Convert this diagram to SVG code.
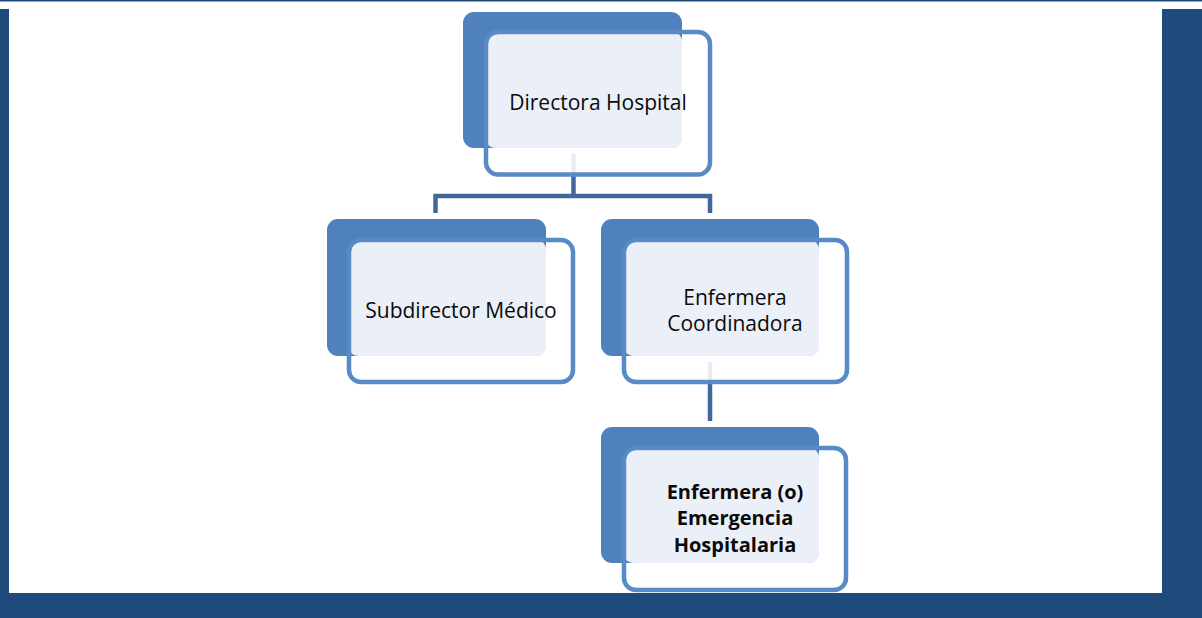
<svg xmlns="http://www.w3.org/2000/svg" width="1202" height="618" viewBox="0 0 1202 618">
  <style>
    .back { fill: #4F81BD; }
    .light { fill: #EBF0F8; }
    .frame { fill: none; stroke: #5A8AC6; stroke-width: 4.5; }
    .conn { stroke: #41689A; stroke-width: 4.5; fill: none; }
    .connlight { stroke: #E8EDF4; stroke-width: 4.5; fill: none; }
    .lbl { font-family: "Open Sans", "Noto Sans", "Liberation Sans", sans-serif; font-size: 21px; fill: #0a0a0a; text-anchor: middle; }
    .bold { font-weight: bold; font-size: 20px; }
    .bar { fill: #1F4A7C; }
  </style>
  <rect x="0" y="0" width="1202" height="618" fill="#ffffff"/>
  <g id="border">
    <rect class="bar" x="0" y="0" width="1202" height="1.5"/>
    <rect class="bar" x="0" y="9" width="9" height="609"/>
    <rect class="bar" x="1162" y="9" width="40" height="609"/>
    <rect class="bar" x="0" y="593" width="1202" height="25"/>
  </g>
  <g id="connectors">
    <path class="conn" d="M573.5 176 V196 M435.5 213 V196 H710 V213"/>
    <path class="conn" d="M710 384 V421"/>
  </g>
  <g id="node-directora">
    <rect class="back" x="463" y="12" width="219" height="136" rx="11"/>
    <rect class="light" x="486" y="32" width="196" height="116" rx="9"/>
    <line class="connlight" x1="573.5" y1="154" x2="573.5" y2="174"/>
    <rect class="frame" x="486" y="32" width="224" height="142.5" rx="12"/>
    <text class="lbl" x="598" y="110">Directora Hospital</text>
  </g>
  <g id="node-subdirector">
    <rect class="back" x="327" y="219" width="219" height="137" rx="11"/>
    <rect class="light" x="349" y="240" width="197" height="116" rx="9"/>
    <rect class="frame" x="349" y="240" width="224" height="142" rx="12"/>
    <text class="lbl" x="461" y="318">Subdirector Médico</text>
  </g>
  <g id="node-coordinadora">
    <rect class="back" x="601" y="219" width="218" height="137" rx="11"/>
    <rect class="light" x="624" y="240" width="195" height="116" rx="9"/>
    <line class="connlight" x1="710" y1="362" x2="710" y2="382"/>
    <rect class="frame" x="624" y="240" width="223" height="142" rx="12"/>
    <text class="lbl" x="735" y="305">Enfermera</text>
    <text class="lbl" x="735" y="331">Coordinadora</text>
  </g>
  <g id="node-emergencia">
    <rect class="back" x="601" y="427" width="218" height="136" rx="11"/>
    <rect class="light" x="624" y="448" width="195" height="115" rx="9"/>
    <rect class="frame" x="624" y="448" width="222" height="142" rx="12"/>
    <text class="lbl bold" x="735" y="499">Enfermera (o)</text>
    <text class="lbl bold" x="735" y="525">Emergencia</text>
    <text class="lbl bold" x="735" y="552">Hospitalaria</text>
  </g>
</svg>
